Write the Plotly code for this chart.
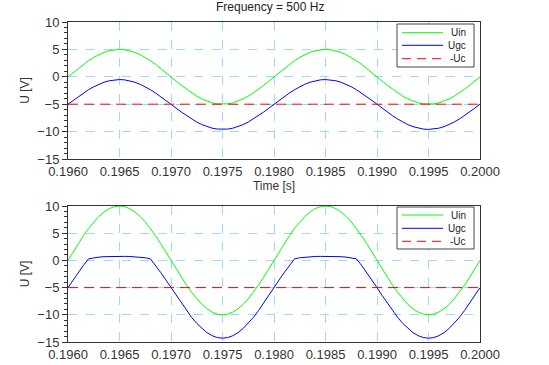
import plotly.graph_objects as go
from plotly.subplots import make_subplots

# sampling instants (s)
t_start = 0.196
t_step = 0.00005
n_pts = 81
time_s = [round(t_start + i * t_step, 5) for i in range(n_pts)]

# ---- top panel (amplitude 5 V) ----
uin_top_period = [0.00, 0.78, 1.55, 2.27, 2.94, 3.54, 4.05, 4.46, 4.76, 4.94, 5.00,
                  4.94, 4.76, 4.46, 4.05, 3.54, 2.94, 2.27, 1.55, 0.78, 0.00,
                  -0.78, -1.55, -2.27, -2.94, -3.54, -4.05, -4.46, -4.76, -4.94, -5.00,
                  -4.94, -4.76, -4.46, -4.05, -3.54, -2.94, -2.27, -1.55, -0.78]
uin_top = uin_top_period + uin_top_period + [0.00]

ugc_top_period = [-5.00, -4.30, -3.61, -2.96, -2.35, -1.82, -1.36, -0.99, -0.72, -0.56, -0.50,
                  -0.56, -0.72, -0.99, -1.36, -1.82, -2.35, -2.96, -3.61, -4.30, -5.00,
                  -5.72, -6.43, -7.09, -7.70, -8.26, -8.73, -9.10, -9.38, -9.54, -9.60,
                  -9.54, -9.38, -9.10, -8.73, -8.26, -7.70, -7.09, -6.43, -5.72]
ugc_top = ugc_top_period + ugc_top_period + [-5.00]

# ---- bottom panel (amplitude 10 V) ----
uin_bot_period = [0.00, 1.56, 3.09, 4.54, 5.88, 7.07, 8.09, 8.91, 9.51, 9.88, 10.00,
                  9.88, 9.51, 8.91, 8.09, 7.07, 5.88, 4.54, 3.09, 1.56, 0.00,
                  -1.56, -3.09, -4.54, -5.88, -7.07, -8.09, -8.91, -9.51, -9.88, -10.00,
                  -9.88, -9.51, -8.91, -8.09, -7.07, -5.88, -4.54, -3.09, -1.56]
uin_bot = uin_bot_period + uin_bot_period + [0.00]

ugc_bot_period = [-5.00, -3.59, -2.22, -0.91, 0.29, 0.48, 0.60, 0.68, 0.72, 0.74, 0.75,
                  0.74, 0.72, 0.68, 0.60, 0.48, 0.29, -0.91, -2.22, -3.59, -5.00,
                  -6.45, -7.87, -9.22, -10.47, -11.58, -12.52, -13.29, -13.84, -14.19, -14.30,
                  -14.19, -13.84, -13.29, -12.52, -11.58, -10.47, -9.22, -7.87, -6.45]
ugc_bot = ugc_bot_period + ugc_bot_period + [-5.00]

uc_level = -5.0
minus_uc = [uc_level] * n_pts

series_names = ["Uin", "Ugc", "-Uc"]
x_ticks = [0.1960, 0.1965, 0.1970, 0.1975, 0.1980, 0.1985, 0.1990, 0.1995, 0.2000]
y_ticks = [-15, -10, -5, 0, 5, 10]

GREEN = "#00ff00"
BLUE = "#0000ff"
RED = "#ff0000"
GRID = "#9fd8ff"
FONT = "Liberation Sans, Arial, sans-serif"
colors = [GREEN, BLUE, RED]
dashes = ["solid", "solid", "10px,6px"]

W, H = 549, 365
ML, MR, MT, MB = 68, 69, 22, 23
PW, PH = W - ML - MR, H - MT - MB


def px(xp):
    """picture x pixel -> paper coordinate"""
    return (xp - ML) / PW


def py(yp):
    """picture y pixel -> paper coordinate"""
    return (H - MB - yp) / PH


fig = make_subplots(rows=2, cols=1, vertical_spacing=0.147)

for row, uin, ugc in [(1, uin_top, ugc_top), (2, uin_bot, ugc_bot)]:
    for name, yv, c, d in zip(series_names, [uin, ugc, minus_uc], colors, dashes):
        fig.add_trace(go.Scatter(x=time_s, y=yv, mode="lines", name=name, showlegend=False,
                                 line=dict(color=c, width=1, dash=d)), row=row, col=1)

axis_common = dict(showline=True, linecolor="#333333", linewidth=1, mirror=True,
                   showgrid=True, gridcolor=GRID, griddash="dash", gridwidth=1,
                   zeroline=False, automargin=False,
                   tickfont=dict(family=FONT, size=13, color="#333333"))

for row in (1, 2):
    fig.update_xaxes(range=[0.196, 0.2], tickvals=x_ticks, tickformat=".4f",
                     ticks="", **axis_common, row=row, col=1)
    fig.update_yaxes(range=[-15, 10], tickvals=y_ticks, ticks="outside", ticklen=5,
                     tickcolor="#333333",
                     minor=dict(dtick=1, ticks="outside", ticklen=3, tickcolor="#333333", showgrid=False),
                     title=dict(text="U [V]", font=dict(family=FONT, size=12, color="#333333"), standoff=5),
                     **axis_common, row=row, col=1)

fig.update_xaxes(title=dict(text="Time [s]", font=dict(family=FONT, size=12, color="#333333"), standoff=2),
                 row=1, col=1)

# hand-drawn legends in Scilab style (line sample left, label right-aligned)
shapes = []
annotations = []
legend_boxes = [(24, 67, [32.7, 45.3, 58.7]), (207, 249, [215.0, 228.3, 241.3])]
for top, bottom, rows_y in legend_boxes:
    shapes.append(dict(type="rect", xref="paper", yref="paper",
                       x0=px(397), x1=px(474), y0=py(bottom), y1=py(top),
                       fillcolor="white", line=dict(color="#444444", width=1), layer="above"))
    for name, c, d, yy in zip(series_names, colors, dashes, rows_y):
        shapes.append(dict(type="line", xref="paper", yref="paper",
                           x0=px(402), x1=px(443), y0=py(yy), y1=py(yy),
                           line=dict(color=c, width=1, dash="9px,6px" if d != "solid" else "solid"),
                           layer="above"))
        annotations.append(dict(text=name, xref="paper", yref="paper", x=px(468), y=py(yy),
                                xanchor="right", yanchor="middle", showarrow=False,
                                font=dict(family=FONT, size=10, color="#222222")))

annotations.append(dict(text="Frequency = 500 Hz", xref="paper", yref="paper",
                        x=px(270), y=py(7), xanchor="center", yanchor="middle", showarrow=False,
                        font=dict(family=FONT, size=12, color="#222222")))

fig.update_layout(
    width=W, height=H,
    margin=dict(l=ML, r=MR, t=MT, b=MB),
    paper_bgcolor="white", plot_bgcolor="white",
    showlegend=False,
    shapes=shapes,
    annotations=annotations,
)
fig.update_yaxes(domain=[py(159), 1.0], row=1, col=1)
fig.update_yaxes(domain=[0.0, py(206)], row=2, col=1)

# remove the default 8px page margin so the figure fills the window exactly
fig.write_html("out.html", config={"displayModeBar": False},
               post_script="document.body.style.margin='0';")
